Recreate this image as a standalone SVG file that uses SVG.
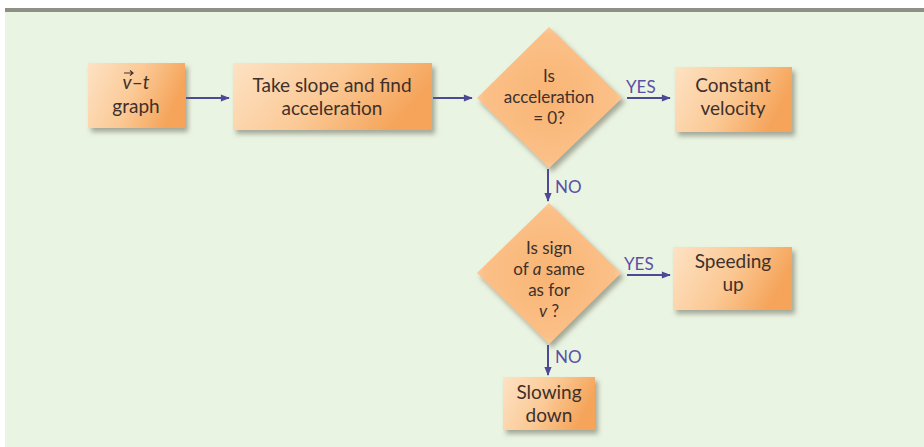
<svg xmlns="http://www.w3.org/2000/svg" width="924" height="447" viewBox="0 0 924 447">
<defs>
<linearGradient id="box" x1="0" y1="0" x2="1" y2="0.3">
<stop offset="0" stop-color="#fde2c4"/>
<stop offset="0.55" stop-color="#fbc995"/>
<stop offset="1" stop-color="#f5a45a"/>
</linearGradient>
<radialGradient id="dia" cx="0.5" cy="0.5" r="0.6">
<stop offset="0" stop-color="#f9b473"/>
<stop offset="0.75" stop-color="#fbc088"/>
<stop offset="1" stop-color="#fddcb9"/>
</radialGradient>
<filter id="sh" x="-20%" y="-20%" width="150%" height="150%">
<feDropShadow dx="3" dy="4" stdDeviation="2.5" flood-color="#6b6b5a" flood-opacity="0.55"/>
</filter>
<marker id="ah" viewBox="0 0 10 10" refX="9" refY="5" markerWidth="10" markerHeight="9" markerUnits="userSpaceOnUse" orient="auto">
<path d="M0,1 L10,5 L0,9 Z" fill="#4f4896"/>
</marker>
<style>
.t{font-family:Lato,"Open Sans",sans-serif;font-size:19px;fill:#3f302b;text-anchor:middle}
.d{font-family:Lato,"Open Sans",sans-serif;font-size:17px;fill:#3f302b;text-anchor:middle}
.l{font-family:Lato,"Open Sans",sans-serif;font-size:17px;fill:#5a4fa6}
.c{stroke:#4f4896;stroke-width:2;fill:none;marker-end:url(#ah)}
.b{fill:url(#box);filter:url(#sh)}
.dm{fill:url(#dia);filter:url(#sh)}
</style>
</defs>
<rect x="0" y="0" width="924" height="447" fill="#ffffff"/>
<rect x="5" y="11" width="919" height="436" fill="#eaf4e2"/>
<rect x="5" y="8" width="919" height="4" fill="#8e9086"/>

<g id="connectors">
<line class="c" x1="186" y1="98" x2="229" y2="98"/>
<line class="c" x1="433" y1="98" x2="472" y2="98"/>
<line class="c" x1="627" y1="98" x2="670" y2="98"/>
<line class="c" x1="548" y1="169" x2="548" y2="201"/>
<line class="c" x1="627" y1="275" x2="670" y2="275"/>
<line class="c" x1="548" y1="345" x2="548" y2="375"/>
<text class="l" x="626" y="93">YES</text>
<text class="l" x="555" y="193">NO</text>
<text class="l" x="624" y="270">YES</text>
<text class="l" x="555" y="363">NO</text>
</g>

<g id="n1">
<rect class="b" x="88" y="63" width="97" height="65"/>
<text class="t" x="136" y="89"><tspan font-style="italic">v</tspan>–<tspan font-style="italic">t</tspan></text>
<path d="M124,73 L133,73 M130,70.5 L133,73 L130,75.5" stroke="#3f302b" stroke-width="1.2" fill="none"/>
<text class="t" x="136" y="113">graph</text>
</g>

<g id="n2">
<rect class="b" x="233" y="63" width="199" height="67"/>
<text class="t" x="332" y="92">Take slope and find</text>
<text class="t" x="332" y="115">acceleration</text>
</g>

<g id="n3">
<polygon class="dm" points="549,27 622,98 549,168 477,98"/>
<text class="d" x="549" y="82">Is</text>
<text class="d" x="549" y="103">acceleration</text>
<text class="d" x="549" y="124">= 0?</text>
</g>

<g id="n4">
<rect class="b" x="675" y="67" width="117" height="65"/>
<text class="t" x="733" y="92">Constant</text>
<text class="t" x="733" y="115">velocity</text>
</g>

<g id="n5">
<polygon class="dm" points="549,203 621,273 549,344 477,273"/>
<text class="d" x="549" y="254">Is sign</text>
<text class="d" x="549" y="275">of <tspan font-style="italic">a</tspan> same</text>
<text class="d" x="549" y="296">as for</text>
<text class="d" x="549" y="317"><tspan font-style="italic">v</tspan> ?</text>
</g>

<g id="n6">
<rect class="b" x="673" y="247" width="119" height="63"/>
<text class="t" x="733" y="268">Speeding</text>
<text class="t" x="733" y="291">up</text>
</g>

<g id="n7">
<rect class="b" x="503" y="377" width="92" height="53"/>
<text class="t" x="549" y="399">Slowing</text>
<text class="t" x="549" y="422">down</text>
</g>
</svg>
